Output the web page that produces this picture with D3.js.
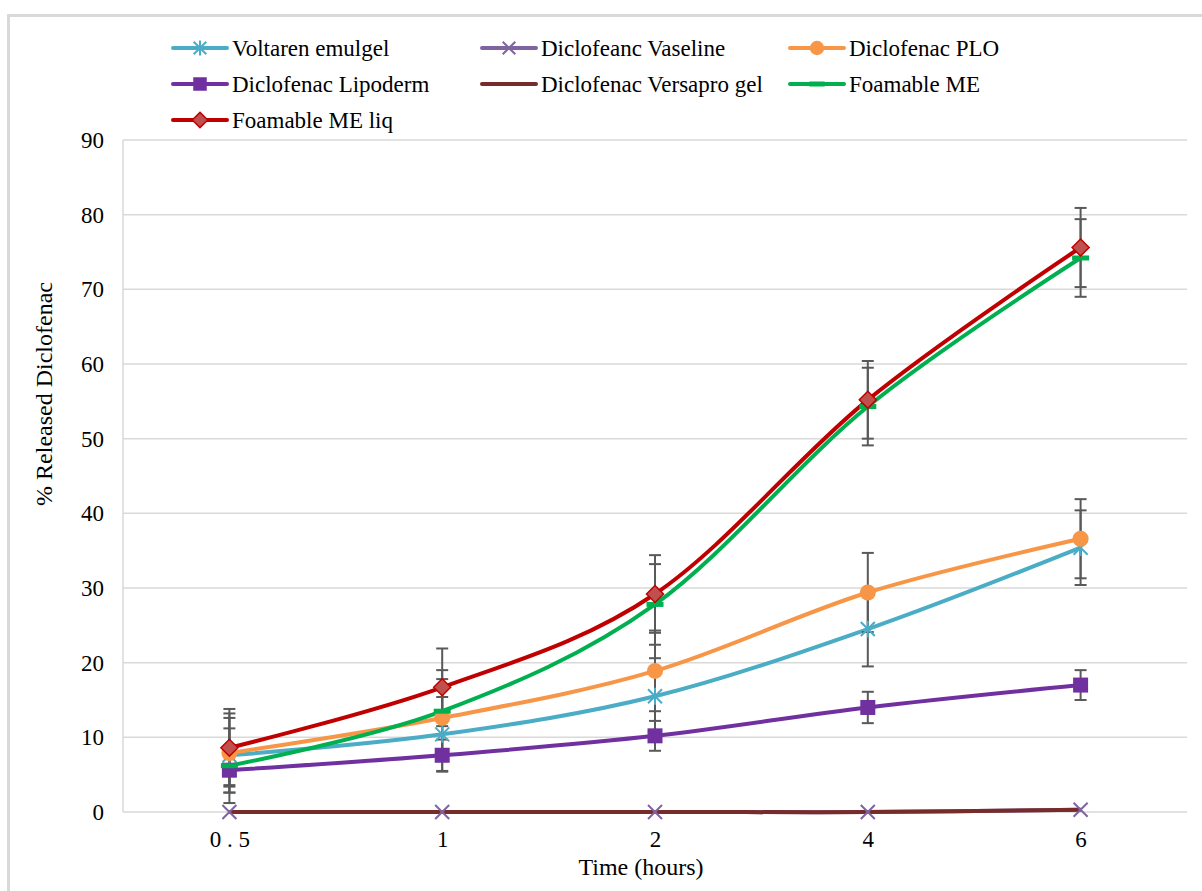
<!DOCTYPE html>
<html><head><meta charset="utf-8">
<script src="https://cdn.jsdelivr.net/npm/d3@7"></script>
<style>
html,body{margin:0;padding:0;background:#fff;}
svg{display:block;font-family:"Liberation Serif","Times New Roman",serif;}
</style></head>
<body>
<svg id="chart" width="1202" height="891"></svg>
<script>
const categories = ["0 . 5", "1", "2", "4", "6"];
const yTicks = [0,10,20,30,40,50,60,70,80,90];
const seriesNames = ["Voltaren emulgel","Diclofeanc Vaseline","Diclofenac PLO","Diclofenac Lipoderm","Diclofenac Versapro gel","Foamable ME","Foamable ME liq"];
const voltaren = [7.6, 10.4, 15.5, 24.5, 35.4];
const voltarenErr = [5.0, 5.0, 5.1, 5.0, 5.0];
const vaseline = [0, 0, 0, 0, 0.3];
const vaselineErr = [0, 0, 0, 0, 0];
const plo = [7.9, 12.6, 18.9, 29.4, 36.6];
const ploErr = [5.3, 5.2, 5.4, 5.3, 5.3];
const lipoderm = [5.6, 7.6, 10.2, 14.0, 17.0];
const lipodermErr = [2.0, 2.1, 2.0, 2.1, 2.0];
const versapro = [0, 0, 0, 0, 0.3];
const versaproErr = [0, 0, 0, 0, 0];
const foamME = [6.2, 13.5, 27.8, 54.3, 74.2];
const foamMEErr = [5.0, 5.5, 5.4, 5.2, 5.2];
const foamMELiq = [8.6, 16.7, 29.2, 55.2, 75.6];
const foamMELiqErr = [5.2, 5.2, 5.2, 5.2, 5.3];

const styles = [
  {color:"#4BACC6", marker:"asterisk"},
  {color:"#8064A2", marker:"x"},
  {color:"#F79646", marker:"circle"},
  {color:"#7030A0", marker:"square"},
  {color:"#772C2A", marker:"none"},
  {color:"#00B050", marker:"dash"},
  {color:"#C00000", marker:"diamond", fill:"#C0504D"}
];
const valuesList = [voltaren, vaseline, plo, lipoderm, versapro, foamME, foamMELiq];
const errList = [voltarenErr, vaselineErr, ploErr, lipodermErr, versaproErr, foamMEErr, foamMELiqErr];
const series = seriesNames.map((n,i)=>({name:n, values:valuesList[i], err:errList[i], ...styles[i]}));

const svg = d3.select("#chart");
svg.append("rect").attr("x",8.5).attr("y",15.5).attr("width",1200).attr("height",880)
  .attr("fill","#fff").attr("stroke","#d9d9d9").attr("stroke-width",3);

const x = d3.scalePoint(categories, [123, 1187]).padding(0.5);
const y = d3.scaleLinear([0, 90], [812, 140]);

svg.append("g").selectAll("line").data(yTicks).join("line")
  .attr("x1",123).attr("x2",1187).attr("y1",d=>y(d)).attr("y2",d=>y(d))
  .attr("stroke","#d9d9d9").attr("stroke-width",1.5);
svg.append("line").attr("x1",123).attr("x2",123).attr("y1",y(90)).attr("y2",y(0))
  .attr("stroke","#d9d9d9").attr("stroke-width",1.5);

const yAxis = d3.axisLeft(y).tickValues(yTicks).tickSize(0).tickPadding(19);
const gy = svg.append("g").attr("transform","translate(123,0)").call(yAxis);
gy.select(".domain").remove();
gy.selectAll("text").attr("font-size",23).attr("fill","#000").attr("font-family","Liberation Serif");

const xAxis = d3.axisBottom(x).tickSize(0).tickPadding(19);
const gx = svg.append("g").attr("transform","translate(0,812)").call(xAxis);
gx.select(".domain").remove();
gx.selectAll("text").attr("font-size",23).attr("fill","#000").attr("font-family","Liberation Serif");

svg.append("text").attr("x",641).attr("y",875).attr("text-anchor","middle")
  .attr("font-size",24).text("Time (hours)");
svg.append("text").attr("transform","translate(52,394) rotate(-90)")
  .attr("text-anchor","middle").attr("font-size",24).text("% Released Diclofenac");

const line = d3.line().x((d,i)=>x(categories[i])).y(d=>y(d)).curve(d3.curveCardinal.tension(0));

svg.append("g").selectAll("path").data(series).join("path")
  .attr("d",s=>line(s.values)).attr("fill","none").attr("stroke",s=>s.color)
  .attr("stroke-width",4).attr("stroke-linejoin","round");

const eg = svg.append("g").attr("stroke","#595959").attr("stroke-width",2);
series.forEach(s=>{
  s.values.forEach((v,i)=>{
    const e = s.err[i]; if(!e) return;
    const cx = x(categories[i]);
    eg.append("line").attr("x1",cx).attr("x2",cx).attr("y1",y(v+e)).attr("y2",y(v-e));
    eg.append("line").attr("x1",cx-6).attr("x2",cx+6).attr("y1",y(v+e)).attr("y2",y(v+e));
    eg.append("line").attr("x1",cx-6).attr("x2",cx+6).attr("y1",y(v-e)).attr("y2",y(v-e));
  });
});

function drawMarker(g, s, cx, cy, scale){
  scale = scale||1;
  const c = s.color;
  if(s.marker==="square"){
    const h=7.5*scale;
    g.append("rect").attr("x",cx-h).attr("y",cy-h).attr("width",2*h).attr("height",2*h).attr("fill",c);
  } else if(s.marker==="circle"){
    g.append("circle").attr("cx",cx).attr("cy",cy).attr("r",8*scale).attr("fill",c);
  } else if(s.marker==="diamond"){
    const h=8.5*scale;
    g.append("path").attr("d",`M${cx},${cy-h}L${cx+h},${cy}L${cx},${cy+h}L${cx-h},${cy}Z`)
      .attr("fill",s.fill).attr("stroke",c).attr("stroke-width",1.5);
  } else if(s.marker==="x"){
    const h=7*scale;
    g.append("path").attr("d",`M${cx-h},${cy-h}L${cx+h},${cy+h}M${cx-h},${cy+h}L${cx+h},${cy-h}`)
      .attr("stroke",c).attr("stroke-width",2).attr("fill","none");
  } else if(s.marker==="asterisk"){
    const h=7*scale;
    g.append("path").attr("d",`M${cx-h},${cy-h}L${cx+h},${cy+h}M${cx-h},${cy+h}L${cx+h},${cy-h}M${cx},${cy-h*1.2}L${cx},${cy+h*1.2}`)
      .attr("stroke",c).attr("stroke-width",2).attr("fill","none");
  } else if(s.marker==="dash"){
    g.append("rect").attr("x",cx-8.5*scale).attr("y",cy-2.5).attr("width",17*scale).attr("height",5).attr("fill",c);
  }
}

const mg = svg.append("g");
series.forEach(s=>{
  s.values.forEach((v,i)=>drawMarker(mg, s, x(categories[i]), y(v)));
});

const legCols = [173, 482, 790];
const legRows = [48, 84, 120];
const lg = svg.append("g");
series.forEach((s,i)=>{
  const col = i%3, row = Math.floor(i/3);
  const lx = legCols[col], ly = legRows[row];
  lg.append("line").attr("x1",lx).attr("x2",lx+54).attr("y1",ly).attr("y2",ly)
    .attr("stroke",s.color).attr("stroke-width",4).attr("stroke-linecap","round");
  drawMarker(lg, s, lx+27, ly, 0.9);
  lg.append("text").attr("x",lx+59).attr("y",ly).attr("dy","0.35em")
    .attr("font-size",23).attr("fill","#000").text(s.name);
});
</script>
</body></html>
